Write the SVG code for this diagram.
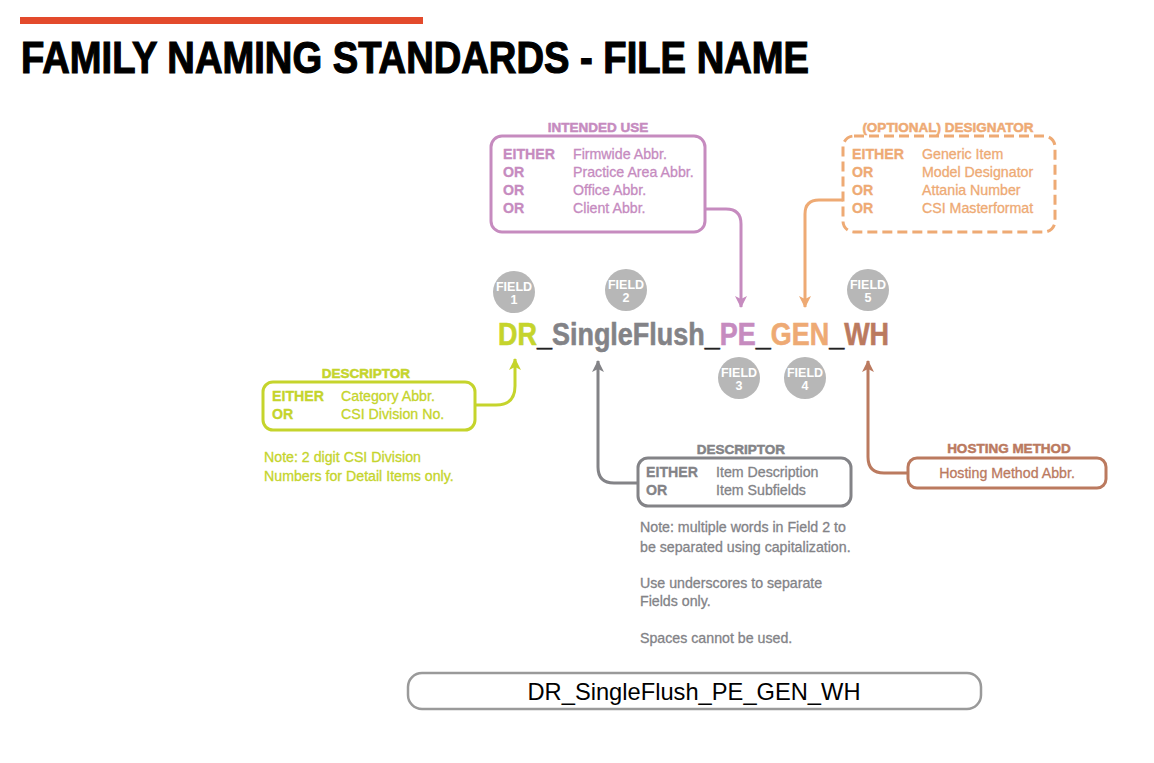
<svg xmlns="http://www.w3.org/2000/svg" width="1154" height="763" viewBox="0 0 1154 763">
  <style>
    text { font-family: "Liberation Sans", Arial, sans-serif; }
    .b { font-weight: bold; }
    .t { font-size: 14.2px; stroke-width: 0.3; }
    .h { font-size: 13.5px; font-weight: bold; text-anchor: middle; stroke-width: 0.5; }
    .box { fill: none; stroke-width: 3; }
    .con { fill: none; stroke-width: 3; }
    .fc { fill: #b7b7b7; }
    .fl { fill: #ffffff; font-weight: bold; text-anchor: middle; font-size: 12.5px; }
    .purple { fill: #c68bbf; stroke: #c68bbf; }
    .orange { fill: #eeaa74; stroke: #eeaa74; }
    .green { fill: #c5d42c; stroke: #c5d42c; }
    .gray { fill: #838387; stroke: #838387; }
    .brown { fill: #bb7a5f; stroke: #bb7a5f; }
  </style>
  <defs>
    <marker id="ah-purple" viewBox="0 0 12 12" refX="11" refY="6" markerWidth="12" markerHeight="12" markerUnits="userSpaceOnUse" orient="auto">
      <path d="M0,0 L12,6 L0,12 L3,6 z" fill="#c68bbf"/>
    </marker>
    <marker id="ah-orange" viewBox="0 0 12 12" refX="11" refY="6" markerWidth="12" markerHeight="12" markerUnits="userSpaceOnUse" orient="auto">
      <path d="M0,0 L12,6 L0,12 L3,6 z" fill="#eeaa74"/>
    </marker>
    <marker id="ah-green" viewBox="0 0 12 12" refX="11" refY="6" markerWidth="12" markerHeight="12" markerUnits="userSpaceOnUse" orient="auto">
      <path d="M0,0 L12,6 L0,12 L3,6 z" fill="#c5d42c"/>
    </marker>
    <marker id="ah-gray" viewBox="0 0 12 12" refX="11" refY="6" markerWidth="12" markerHeight="12" markerUnits="userSpaceOnUse" orient="auto">
      <path d="M0,0 L12,6 L0,12 L3,6 z" fill="#838387"/>
    </marker>
    <marker id="ah-brown" viewBox="0 0 12 12" refX="11" refY="6" markerWidth="12" markerHeight="12" markerUnits="userSpaceOnUse" orient="auto">
      <path d="M0,0 L12,6 L0,12 L3,6 z" fill="#bb7a5f"/>
    </marker>
  </defs>

  <rect width="1154" height="763" fill="#ffffff"/>

  <!-- heading -->
  <g id="heading">
    <rect x="20" y="17" width="403" height="7" fill="#e34a2c"/>
    <text x="21" y="73" font-size="45" font-weight="bold" fill="#000" stroke="#000" stroke-width="1.2" textLength="788" lengthAdjust="spacingAndGlyphs">FAMILY NAMING STANDARDS - FILE NAME</text>
  </g>

  <!-- connectors -->
  <g id="connectors">
    <path class="con" stroke="#c68bbf" d="M705,209 H726 Q741,209 741,224 V307" marker-end="url(#ah-purple)"/>
    <path class="con" stroke="#eeaa74" d="M843,200 H819 Q805,200 805,214 V307" marker-end="url(#ah-orange)"/>
    <path class="con" stroke="#c5d42c" d="M475,405 H496 Q515,405 515,386 V359" marker-end="url(#ah-green)"/>
    <path class="con" stroke="#838387" d="M638,483 H614 Q598,483 598,467 V361" marker-end="url(#ah-gray)"/>
    <path class="con" stroke="#bb7a5f" d="M908,473 H884 Q868,473 868,457 V361" marker-end="url(#ah-brown)"/>
  </g>

  <!-- field 3: intended use -->
  <g id="intended-use">
    <text class="h purple" x="598" y="132">INTENDED USE</text>
    <rect class="box" x="491" y="136" width="214" height="96" rx="11" stroke="#c68bbf"/>
    <text class="t b purple" x="503" y="159">EITHER</text>
    <text class="t purple" x="573" y="159">Firmwide Abbr.</text>
    <text class="t b purple" x="503" y="177">OR</text>
    <text class="t purple" x="573" y="177">Practice Area Abbr.</text>
    <text class="t b purple" x="503" y="195">OR</text>
    <text class="t purple" x="573" y="195">Office Abbr.</text>
    <text class="t b purple" x="503" y="213">OR</text>
    <text class="t purple" x="573" y="213">Client Abbr.</text>
  </g>

  <!-- field 4: optional designator -->
  <g id="designator">
    <text class="h orange" x="948" y="132">(OPTIONAL) DESIGNATOR</text>
    <rect class="box" x="843" y="136" width="212" height="96" rx="11" stroke="#eeaa74" stroke-dasharray="10 5"/>
    <text class="t b orange" x="852" y="159">EITHER</text>
    <text class="t orange" x="922" y="159">Generic Item</text>
    <text class="t b orange" x="852" y="177">OR</text>
    <text class="t orange" x="922" y="177">Model Designator</text>
    <text class="t b orange" x="852" y="195">OR</text>
    <text class="t orange" x="922" y="195">Attania Number</text>
    <text class="t b orange" x="852" y="213">OR</text>
    <text class="t orange" x="922" y="213">CSI Masterformat</text>
  </g>

  <!-- field badges -->
  <g id="field-1">
    <circle class="fc" cx="514" cy="292" r="21"/>
    <text class="fl" x="514" y="291">FIELD</text>
    <text class="fl" x="514" y="304">1</text>
  </g>
  <g id="field-2">
    <circle class="fc" cx="626" cy="290" r="21"/>
    <text class="fl" x="626" y="289">FIELD</text>
    <text class="fl" x="626" y="302">2</text>
  </g>
  <g id="field-3">
    <circle class="fc" cx="739" cy="378" r="21"/>
    <text class="fl" x="739" y="377">FIELD</text>
    <text class="fl" x="739" y="390">3</text>
  </g>
  <g id="field-4">
    <circle class="fc" cx="805" cy="378" r="21"/>
    <text class="fl" x="805" y="377">FIELD</text>
    <text class="fl" x="805" y="390">4</text>
  </g>
  <g id="field-5">
    <circle class="fc" cx="868" cy="290" r="21"/>
    <text class="fl" x="868" y="289">FIELD</text>
    <text class="fl" x="868" y="302">5</text>
  </g>

  <!-- composed file name -->
  <g id="file-name">
    <text transform="translate(498,345) scale(0.843,1)" x="0" y="0" font-size="32" font-weight="bold" stroke-width="0.6"><tspan fill="#c5d42c" stroke="#c5d42c">DR</tspan><tspan fill="#222" stroke="#222">_</tspan><tspan fill="#838387" stroke="#838387">SingleFlush</tspan><tspan fill="#222" stroke="#222">_</tspan><tspan fill="#c68bbf" stroke="#c68bbf">PE</tspan><tspan fill="#222" stroke="#222">_</tspan><tspan fill="#eeaa74" stroke="#eeaa74">GEN</tspan><tspan fill="#222" stroke="#222">_</tspan><tspan fill="#bb7a5f" stroke="#bb7a5f">WH</tspan></text>
  </g>

  <!-- field 1: descriptor -->
  <g id="descriptor-1">
    <text class="h green" x="366" y="378">DESCRIPTOR</text>
    <rect class="box" x="263" y="382" width="212" height="48" rx="10" stroke="#c5d42c"/>
    <text class="t b green" x="272" y="401">EITHER</text>
    <text class="t green" x="341" y="401">Category Abbr.</text>
    <text class="t b green" x="272" y="419">OR</text>
    <text class="t green" x="341" y="419">CSI Division No.</text>
    <text class="t green" x="264" y="462">Note: 2 digit CSI Division</text>
    <text class="t green" x="264" y="481">Numbers for Detail Items only.</text>
  </g>

  <!-- field 2: descriptor -->
  <g id="descriptor-2">
    <text class="h gray" x="741" y="454">DESCRIPTOR</text>
    <rect class="box" x="638" y="458" width="213" height="48" rx="10" stroke="#838387"/>
    <text class="t b gray" x="646" y="477">EITHER</text>
    <text class="t gray" x="716" y="477">Item Description</text>
    <text class="t b gray" x="646" y="495">OR</text>
    <text class="t gray" x="716" y="495">Item Subfields</text>
    <text class="t gray" x="640" y="532">Note: multiple words in Field 2 to</text>
    <text class="t gray" x="640" y="552">be separated using capitalization.</text>
    <text class="t gray" x="640" y="588">Use underscores to separate</text>
    <text class="t gray" x="640" y="606">Fields only.</text>
    <text class="t gray" x="640" y="643">Spaces cannot be used.</text>
  </g>

  <!-- field 5: hosting method -->
  <g id="hosting-method">
    <text class="h brown" x="1009" y="453">HOSTING METHOD</text>
    <rect class="box" x="908" y="458" width="198" height="30" rx="9" stroke="#bb7a5f"/>
    <text class="t brown" x="1007" y="478" text-anchor="middle">Hosting Method Abbr.</text>
  </g>

  <!-- example -->
  <g id="example">
    <rect x="408" y="673" width="573" height="36" rx="14" fill="none" stroke="#9a9a9a" stroke-width="2.5"/>
    <text x="694" y="700" font-size="24" fill="#000" text-anchor="middle" textLength="333" lengthAdjust="spacingAndGlyphs">DR_SingleFlush_PE_GEN_WH</text>
  </g>
</svg>
